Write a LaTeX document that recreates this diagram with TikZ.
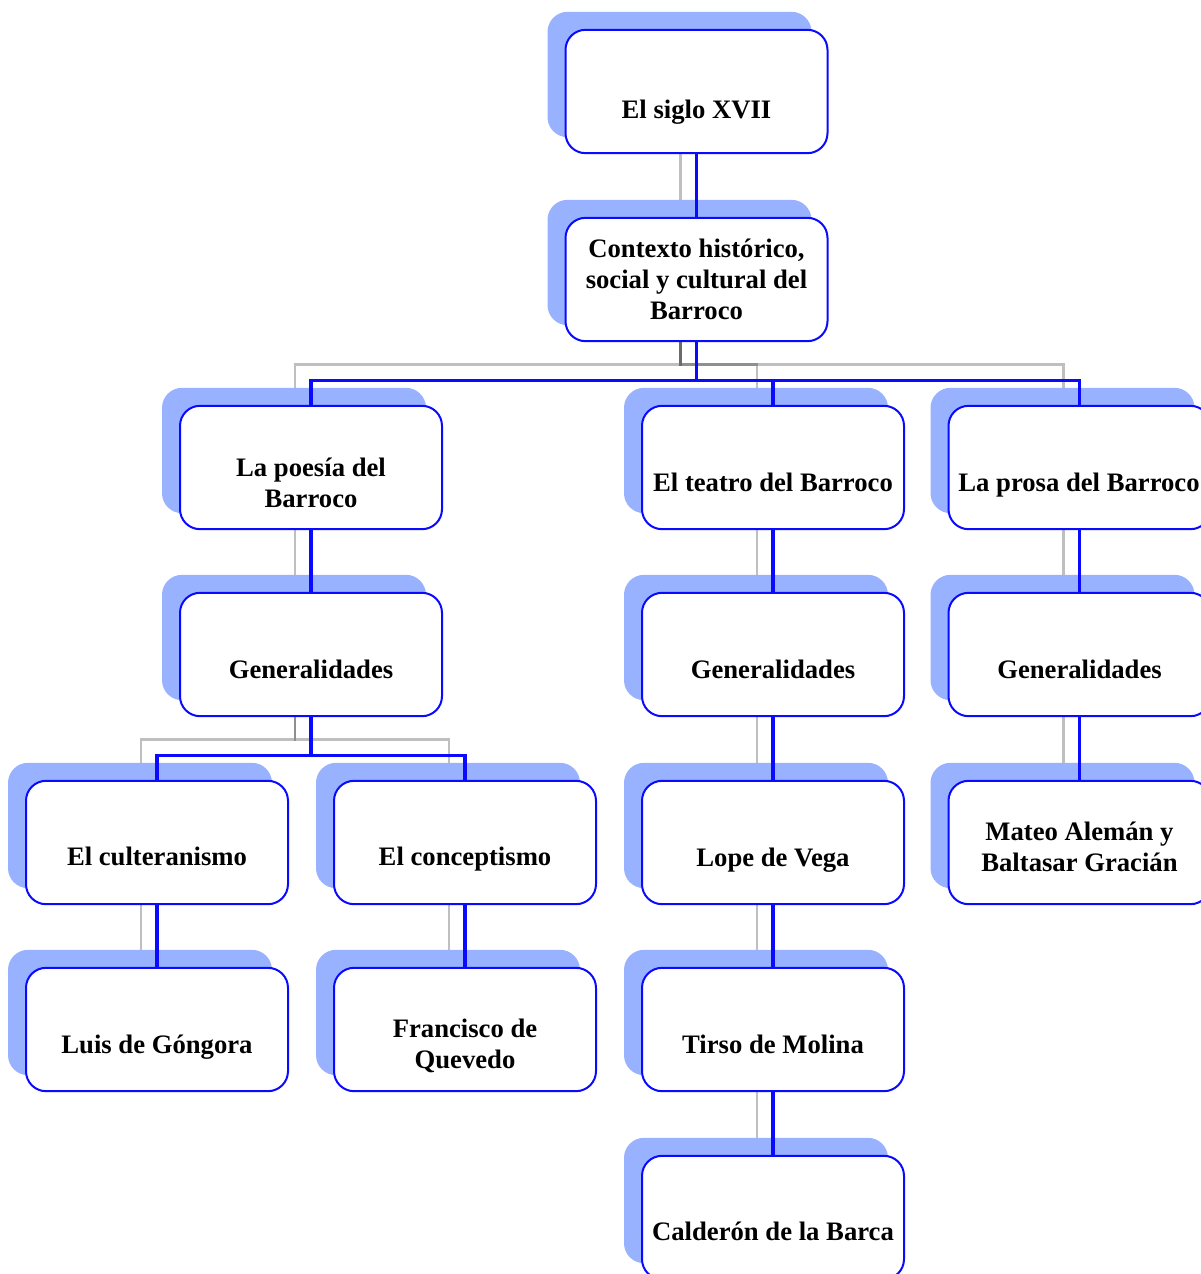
\documentclass[tikz,border=0pt]{standalone}
\usepackage{fontspec}
\setmainfont{Liberation Serif}
\pgfdeclarelayer{grayl}
\pgfdeclarelayer{shadl}
\pgfdeclarelayer{bluel}
\pgfsetlayers{grayl,shadl,bluel,main}
\definecolor{shadowblue}{RGB}{153,178,255}
\definecolor{boxblue}{RGB}{10,10,255}
\begin{document}
\begin{tikzpicture}[x=0.75pt,y=-0.75pt,
  box/.style={draw=boxblue, line width=1.5pt, fill=white, rounded corners=15pt,
    minimum width=196.5pt, minimum height=92.5pt, inner sep=0pt},
  lbl/.style={font=\fontsize{20}{23.25}\selectfont\bfseries, align=center, inner sep=0pt},
  bluecon/.style={draw=boxblue, line width=2.5pt},
  graycon/.style={draw=black, draw opacity=0.25, line width=2.2pt},
  shad/.style={fill=shadowblue, rounded corners=15pt}]
\useasboundingbox (0,0) rectangle (1201,1274);

% boxes
\node[box] (siglo) at (696.5,91.5) {};
\node[box] (contexto) at (696.5,279.5) {};
\node[box] (poesia) at (311,467.5) {};
\node[box] (teatro) at (773,467.5) {};
\node[box] (prosa) at (1079.5,467.5) {};
\node[box] (genp) at (311,654.5) {};
\node[box] (gent) at (773,654.5) {};
\node[box] (genr) at (1079.5,654.5) {};
\node[box] (culte) at (157,842.5) {};
\node[box] (conce) at (465,842.5) {};
\node[box] (lope) at (773,842.5) {};
\node[box] (mateo) at (1079.5,842.5) {};
\node[box] (gongora) at (157,1029.5) {};
\node[box] (quevedo) at (465,1029.5) {};
\node[box] (tirso) at (773,1029.5) {};
\node[box] (calderon) at (773,1217.5) {};

% labels
\node[lbl] (tsiglo) at (696.5,112) {El siglo XVII\strut};
\node[lbl] (tcontexto) at (696.5,282) {Contexto histórico,\strut\\social y cultural del\strut\\Barroco\strut};
\node[lbl] (tpoesia) at (311,485.5) {La poesía del\strut\\Barroco\strut};
\node[lbl] (tteatro) at (773,485.5) {El teatro del Barroco\strut};
\node[lbl] (tprosa) at (1079,485.5) {La prosa del Barroco\strut};
\node[lbl] (tgenp) at (311,672.5) {Generalidades\strut};
\node[lbl] (tgent) at (773,672.5) {Generalidades\strut};
\node[lbl] (tgenr) at (1079.5,672.5) {Generalidades\strut};
\node[lbl] (tculte) at (157,859.5) {El culteranismo\strut};
\node[lbl] (tconce) at (465,859.5) {El conceptismo\strut};
\node[lbl] (tlope) at (773,860) {Lope de Vega\strut};
\node[lbl] (tmateo) at (1079.5,849.5) {Mateo Alemán y\strut\\Baltasar Gracián\strut};
\node[lbl] (tgongora) at (157,1047) {Luis de Góngora\strut};
\node[lbl] (tquevedo) at (465,1047) {Francisco de\strut\\Quevedo\strut};
\node[lbl] (ttirso) at (773,1047) {Tirso de Molina\strut};
\node[lbl] (tcalderon) at (773,1234) {Calderón de la Barca\strut};

% shadows
\begin{pgfonlayer}{shadl}
\foreach \n in {siglo,contexto,poesia,teatro,prosa,genp,gent,genr,culte,conce,lope,mateo,gongora,quevedo,tirso,calderon}
  \fill[shad] ([shift={(-17,-17)}]\n.north west) rectangle ([shift={(-17,-17)}]\n.south east);
\end{pgfonlayer}

% gray shadow connectors
\begin{pgfonlayer}{grayl}
\foreach \p/\c in {siglo/contexto,poesia/genp,teatro/gent,gent/lope,lope/tirso,tirso/calderon,prosa/genr,genr/mateo,culte/gongora,conce/quevedo}
  \draw[graycon] ([shift={(-16,-16)}]\p.south) -- ([shift={(-16,-16)}]\c.north);
\foreach \c in {poesia,teatro,prosa}
  \draw[graycon] ([shift={(-16,-16)}]contexto.south) -- ++(0,38) -| ([shift={(-16,-16)}]\c.north);
\foreach \c in {culte,conce}
  \draw[graycon] ([shift={(-16,-16)}]genp.south) -- ++(0,38) -| ([shift={(-16,-16)}]\c.north);
\end{pgfonlayer}

% blue connectors
\begin{pgfonlayer}{bluel}
\foreach \p/\c in {siglo/contexto,poesia/genp,teatro/gent,gent/lope,lope/tirso,tirso/calderon,prosa/genr,genr/mateo,culte/gongora,conce/quevedo}
  \draw[bluecon] (\p.south) -- (\c.north);
\foreach \c in {poesia,teatro,prosa}
  \draw[bluecon] (contexto.south) -- ++(0,38) -| (\c.north);
\foreach \c in {culte,conce}
  \draw[bluecon] (genp.south) -- ++(0,38) -| (\c.north);
\end{pgfonlayer}
\end{tikzpicture}
\end{document}
